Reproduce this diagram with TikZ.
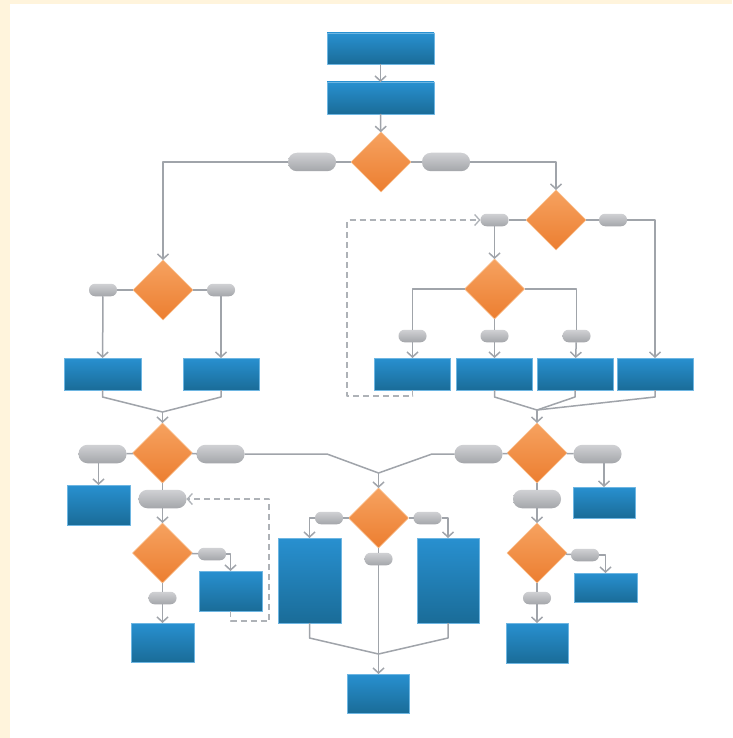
\documentclass[tikz,border=0pt]{standalone}
\usetikzlibrary{shapes.geometric, arrows.meta, positioning, calc}
\definecolor{boxtop}{RGB}{40,144,208}
\definecolor{boxbot}{RGB}{26,108,152}
\definecolor{boxedge}{RGB}{110,182,226}
\definecolor{dectop}{RGB}{246,162,96}
\definecolor{decbot}{RGB}{236,126,48}
\definecolor{decedge}{RGB}{250,192,142}
\definecolor{tagtop}{RGB}{208,209,212}
\definecolor{tagbot}{RGB}{164,166,170}
\definecolor{linegray}{RGB}{160,164,170}
\definecolor{cream}{RGB}{255,244,220}
\tikzstyle{line} = [draw=linegray, line width=1.5pt, -{Straight Barb[length=5pt,width=11pt]}]

\begin{document}
\begin{tikzpicture}[x=1pt, y=-1pt, line join=round]
  % Define styles
  \tikzstyle{process} = [rectangle, inner sep=0pt, outer sep=0pt, top color=boxtop, bottom color=boxbot, draw=boxedge, line width=0.6pt]
  \tikzstyle{decision} = [diamond, minimum width=60pt, minimum height=60pt, inner sep=0pt, outer sep=0pt, top color=dectop, bottom color=decbot, draw=decedge, line width=0.6pt]
  \tikzstyle{tag} = [rectangle, rounded corners=6pt, minimum width=28pt, minimum height=12.5pt, inner sep=0pt, outer sep=0pt, top color=tagtop, bottom color=tagbot]
  \tikzstyle{bigtag} = [tag, rounded corners=9pt, minimum width=48pt, minimum height=18.5pt]
  \tikzstyle{link} = [draw=linegray, line width=1.5pt]
  \tikzstyle{feedback} = [draw=linegray!85, line width=1.3pt, dash pattern=on 6pt off 4pt, -{Straight Barb[length=5pt,width=11pt]}]

  % Background
  \fill [cream] (0,0) rectangle (732,738);
  \fill [white] (10,4) rectangle (732,738);
  \useasboundingbox (0,0) rectangle (732,738);

  % Place nodes
  \node [process, minimum width=107pt, minimum height=31pt] (top1) at (380.5,48.5) {};
  \node [process, minimum width=107pt, minimum height=32pt] (top2) at (380.5,98) {};
  \node [decision] (mainq) at (381,162) {};
  \node [bigtag] (mainno) at (312,162) {};
  \node [bigtag] (mainyes) at (446,162) {};

  \node [decision] (rightq) at (556,220) {};
  \node [tag] (rightno) at (494.5,220) {};
  \node [tag] (rightyes) at (613,220) {};
  \node [decision] (splitq) at (494.5,289) {};
  \node [tag] (splitl) at (412.5,336) {};
  \node [tag] (splitm) at (494.5,336) {};
  \node [tag] (splitr) at (576.5,336) {};
  \node [process, minimum width=76pt, minimum height=32pt] (rowa) at (412.5,374) {};
  \node [process, minimum width=76pt, minimum height=32pt] (rowb) at (494.5,374) {};
  \node [process, minimum width=76pt, minimum height=32pt] (rowc) at (575,374) {};
  \node [process, minimum width=76pt, minimum height=32pt] (rowd) at (655,374) {};

  \node [decision] (leftq) at (163,290) {};
  \node [tag] (leftno) at (103,290) {};
  \node [tag] (leftyes) at (221,290) {};
  \node [process, minimum width=77pt, minimum height=32pt] (rowe) at (102.5,374) {};
  \node [process, minimum width=76pt, minimum height=32pt] (rowf) at (221,374) {};

  \node [decision] (lowlq) at (162.5,453) {};
  \node [bigtag] (lowlno) at (102.5,454) {};
  \node [bigtag] (lowlyes) at (220.5,454) {};
  \node [bigtag] (lowldown) at (162.5,499) {};
  \node [process, minimum width=63pt, minimum height=40pt] (lowlbox) at (98.5,505) {};
  \node [decision] (endlq) at (162.5,553) {};
  \node [tag] (endlside) at (212,554) {};
  \node [tag] (endldown) at (162.5,598) {};
  \node [process, minimum width=63pt, minimum height=40pt] (endlside box) at (230.5,591) {};
  \node [process, minimum width=63pt, minimum height=39pt] (endlbox) at (162.5,642.5) {};

  \node [decision] (midq) at (378.5,518) {};
  \node [tag] (midl) at (329,518) {};
  \node [tag] (midr) at (427.5,518) {};
  \node [tag] (midm) at (378.5,559) {};
  \node [process, minimum width=63pt, minimum height=85pt] (tallg) at (309.5,580.5) {};
  \node [process, minimum width=62pt, minimum height=85pt] (tallh) at (448,580.5) {};
  \node [process, minimum width=62pt, minimum height=39pt] (finish) at (378.5,693.5) {};

  \node [decision] (lowrq) at (537,453) {};
  \node [bigtag] (lowrno) at (478.5,454) {};
  \node [bigtag] (lowryes) at (597.5,454) {};
  \node [bigtag] (lowrdown) at (537,499) {};
  \node [process, minimum width=62pt, minimum height=31pt] (lowrbox) at (604,502.5) {};
  \node [decision] (endrq) at (537,553) {};
  \node [tag] (endrside) at (585,555) {};
  \node [tag] (endrdown) at (537,598) {};
  \node [process, minimum width=63pt, minimum height=29pt] (endrside box) at (605.5,587.5) {};
  \node [process, minimum width=62pt, minimum height=40pt] (endrbox) at (537,643) {};

  % Junctions
  \coordinate (joinl) at (162.5,412);
  \coordinate (joinr) at (537,410);
  \coordinate (joinm) at (378.5,473);
  \coordinate (joinb) at (378.5,654);

  % Draw edges
  \path [line] (top1) -- (top2);
  \path [line] (top2) -- (mainq);
  \path [link] (mainq) -- (mainno);
  \path [link] (mainq) -- (mainyes);
  \path [line] (mainno.west) -| (leftq.north);
  \path [line] (mainyes.east) -| (rightq.north);

  \path [link] (rightq) -- (rightno);
  \path [link] (rightq) -- (rightyes);
  \path [line] (rightno) -- (splitq);
  \path [line] (rightyes.east) -| (rowd.north);
  \path [link] (splitq.west) -| (splitl.north);
  \path [link] (splitq.east) -| (splitr.north);
  \path [link] (splitq) -- (splitm);
  \path [line] (splitl) -- (rowa);
  \path [line] (splitm) -- (rowb);
  \path [line] (splitr) -- (rowc);
  \path [feedback] (rowa.south) |- (347,396) |- (rightno.west);

  \path [link] (leftq) -- (leftno);
  \path [link] (leftq) -- (leftyes);
  \path [line] (leftno) -- (rowe);
  \path [line] (leftyes) -- (rowf);

  \path [link] (rowe.south) -- ++(0,7) -- (joinl);
  \path [link] (rowf.south) -- ++(0,7) -- (joinl);
  \path [line] (joinl) -- (lowlq.north);
  \path [link] (rowb.south) -- ++(0,7) -- (joinr);
  \path [link] (rowc.south) -- ++(0,7) -- (joinr);
  \path [link] (rowd.south) -- ++(0,7) -- (joinr);
  \path [line] (joinr) -- (lowrq.north);

  \path [link] (lowlq) -- (lowlno);
  \path [link] (lowlq) -- (lowlyes);
  \path [link] (lowlq) -- (lowldown);
  \path [line] (lowlno.south -| lowlbox.north) -- (lowlbox.north);
  \path [line] (lowldown) -- (endlq);
  \path [link] (endlq) -- (endlside);
  \path [link] (endlq) -- (endldown);
  \path [line] (endlside.east) -| (endlside box.north);
  \path [line] (endldown) -- (endlbox);
  \path [feedback] (endlside box.south) |- (269,621) |- (lowldown.east);

  \path [link] (lowrq) -- (lowrno);
  \path [link] (lowrq) -- (lowryes);
  \path [link] (lowrq) -- (lowrdown);
  \path [line] (lowryes.south -| lowrbox.north) -- (lowrbox.north);
  \path [line] (lowrdown) -- (endrq);
  \path [link] (endrq) -- (endrside);
  \path [link] (endrq) -- (endrdown);
  \path [line] (endrside.east) -| (endrside box.north);
  \path [line] (endrdown) -- (endrbox);

  \path [link] (lowlyes.east) -- (327,454) -- (joinm);
  \path [link] (lowrno.west) -- (432,454) -- (joinm);
  \path [line] (joinm) -- (midq.north);
  \path [link] (midq) -- (midl);
  \path [link] (midq) -- (midr);
  \path [link] (midq) -- (midm);
  \path [line] (midl.west) -| (tallg.north);
  \path [line] (midr.east) -| (tallh.north);
  \path [link] (tallg.south) -- ++(0,15) -- (joinb);
  \path [link] (tallh.south) -- ++(0,15) -- (joinb);
  \path [line] (midm) -- (finish);
\end{tikzpicture}
\end{document}
